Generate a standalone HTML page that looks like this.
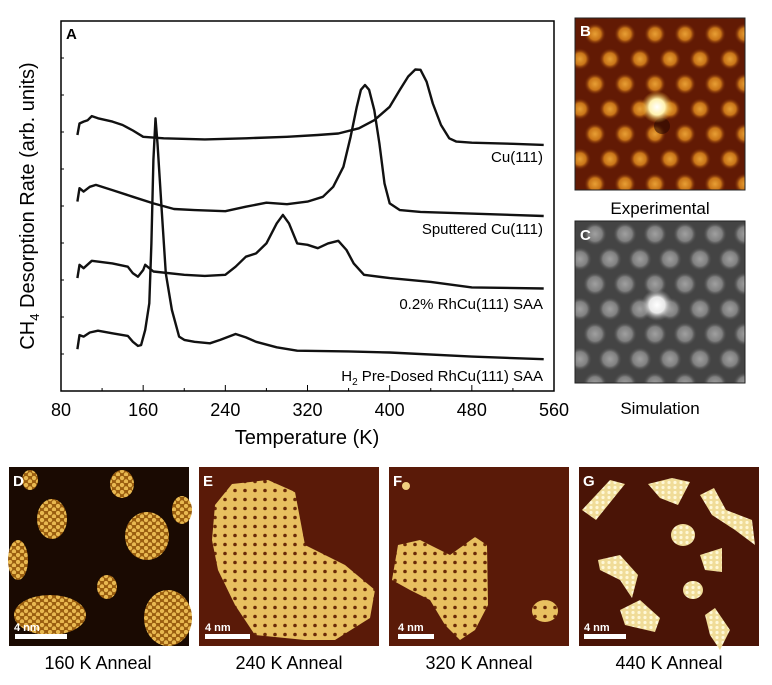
<!DOCTYPE html>
<html><head><meta charset="utf-8"><style>
html,body{margin:0;padding:0;background:#fff;}
body{width:772px;height:680px;overflow:hidden;font-family:"Liberation Sans",sans-serif;}
</style></head><body>
<svg id="fig" width="772" height="680" viewBox="0 0 772 680" xmlns="http://www.w3.org/2000/svg" font-family="Liberation Sans, sans-serif">
<defs>
<radialGradient id="gB"><stop offset="0" stop-color="#e8a035"/><stop offset="0.55" stop-color="#c87418"/><stop offset="1" stop-color="#6a1e04" stop-opacity="0"/></radialGradient>
<radialGradient id="gBw"><stop offset="0" stop-color="#ffffff"/><stop offset="0.5" stop-color="#fff2b0"/><stop offset="1" stop-color="#e0a020" stop-opacity="0"/></radialGradient>
<radialGradient id="gC"><stop offset="0" stop-color="#a0a0a0"/><stop offset="0.6" stop-color="#808080"/><stop offset="1" stop-color="#484848" stop-opacity="0"/></radialGradient>
<radialGradient id="gCw"><stop offset="0" stop-color="#ffffff"/><stop offset="0.5" stop-color="#e8e8e8"/><stop offset="1" stop-color="#888" stop-opacity="0"/></radialGradient>
<pattern id="pB" width="30" height="50" patternUnits="userSpaceOnUse" x="580" y="22">
<rect width="30" height="50" fill="#621a04"/><circle cx="15" cy="12" r="11" fill="url(#gB)"/><circle cx="0" cy="37" r="11" fill="url(#gB)"/><circle cx="30" cy="37" r="11" fill="url(#gB)"/></pattern>
<pattern id="pC" width="30" height="50" patternUnits="userSpaceOnUse" x="580" y="222">
<rect width="30" height="50" fill="#444"/><circle cx="15" cy="12" r="12" fill="url(#gC)"/><circle cx="0" cy="37" r="12" fill="url(#gC)"/><circle cx="30" cy="37" r="12" fill="url(#gC)"/></pattern>
<pattern id="pGold" width="8" height="7" patternUnits="userSpaceOnUse"><rect width="8" height="7" fill="#9a5e10"/><circle cx="2" cy="2" r="2.2" fill="#e8b850"/><circle cx="6" cy="5.5" r="2.2" fill="#e8b850"/></pattern>
<pattern id="pGoldE" width="10" height="9" patternUnits="userSpaceOnUse"><rect width="10" height="9" fill="#e8c060"/><circle cx="5" cy="4.5" r="1.8" fill="#6a2a08"/></pattern>
<pattern id="pLight" width="6" height="5" patternUnits="userSpaceOnUse"><rect width="6" height="5" fill="#f0dc98"/><circle cx="3" cy="2.5" r="1.6" fill="#fff8d8"/></pattern>
</defs>

<g id="chartA">
<rect x="61" y="21" width="493" height="370" fill="none" stroke="#000" stroke-width="1.5"/>
<text x="66" y="39" font-size="15" font-weight="bold">A</text>
<g id="xticks"></g>
<g id="yticks"></g>
<g id="series"></g>
<text x="307" y="444" font-size="20" text-anchor="middle">Temperature (K)</text>
<text transform="translate(34,206) rotate(-90)" font-size="20" text-anchor="middle">CH<tspan font-size="13" dy="5">4</tspan><tspan dy="-5"> Desorption Rate (arb. units)</tspan></text>
<text x="543" y="162" font-size="15" text-anchor="end">Cu(111)</text>
<text x="543" y="234" font-size="15" text-anchor="end">Sputtered Cu(111)</text>
<text x="543" y="309" font-size="15" text-anchor="end">0.2% RhCu(111) SAA</text>
<text x="543" y="381" font-size="15" text-anchor="end">H<tspan font-size="10" dy="4">2</tspan><tspan dy="-4"> Pre-Dosed RhCu(111) SAA</tspan></text>
</g>

<g>
<rect x="575" y="18" width="170" height="172" fill="url(#pB)" stroke="#222"/>
<circle cx="662" cy="126" r="8" fill="#2a0802" opacity="0.6"/>
<circle cx="657" cy="107" r="16" fill="url(#gBw)"/>
<text x="580" y="36" font-size="15" font-weight="bold" fill="#fff">B</text>
</g>
<text x="660" y="214" font-size="17" text-anchor="middle">Experimental</text>
<g>
<rect x="575" y="221" width="170" height="162" fill="url(#pC)" stroke="#222"/>
<circle cx="657" cy="305" r="16" fill="url(#gCw)"/>
<text x="580" y="240" font-size="15" font-weight="bold" fill="#fff">C</text>
</g>
<text x="660" y="414" font-size="17" text-anchor="middle">Simulation</text>

<g>
<rect x="9" y="467" width="180" height="179" fill="#1a0a02"/>
<g fill="url(#pGold)">
<ellipse cx="52" cy="519" rx="15" ry="20"/><ellipse cx="147" cy="536" rx="22" ry="24"/>
<ellipse cx="122" cy="484" rx="12" ry="14"/><ellipse cx="182" cy="510" rx="10" ry="14"/>
<ellipse cx="18" cy="560" rx="10" ry="20"/><ellipse cx="107" cy="587" rx="10" ry="12"/>
<ellipse cx="50" cy="615" rx="36" ry="20"/><ellipse cx="168" cy="618" rx="24" ry="28"/>
<ellipse cx="30" cy="480" rx="8" ry="10"/>
</g>
<text x="13" y="486" font-size="15" font-weight="bold" fill="#fff">D</text>
<text x="14" y="631" font-size="11" font-weight="bold" fill="#fff">4 nm</text>
<rect x="15" y="634" width="52" height="5" fill="#fff"/>
</g>
<g>
<rect x="199" y="467" width="180" height="179" fill="#5a1a08"/>
<polygon points="215,505 232,484 268,480 295,492 305,545 345,565 375,590 370,618 335,640 305,640 255,635 235,605 218,570 212,540" fill="url(#pGoldE)"/>
<text x="203" y="486" font-size="15" font-weight="bold" fill="#fff">E</text>
<text x="205" y="631" font-size="11" font-weight="bold" fill="#fff">4 nm</text>
<rect x="205" y="634" width="45" height="5" fill="#fff"/>
</g>
<g>
<rect x="389" y="467" width="180" height="179" fill="#5a1a08"/>
<polygon points="392,580 398,545 420,540 450,555 475,537 487,545 488,605 475,630 460,640 445,625 430,600 410,590" fill="url(#pGoldE)"/>
<ellipse cx="545" cy="611" rx="13" ry="11" fill="url(#pGoldE)"/>
<circle cx="406" cy="486" r="4" fill="#f0d080"/>
<text x="393" y="486" font-size="15" font-weight="bold" fill="#fff">F</text>
<text x="398" y="631" font-size="11" font-weight="bold" fill="#fff">4 nm</text>
<rect x="398" y="634" width="36" height="5" fill="#fff"/>
</g>
<g>
<rect x="579" y="467" width="180" height="179" fill="#4a1406"/>
<g fill="url(#pLight)">
<polygon points="582,510 610,480 625,484 596,520"/>
<polygon points="648,484 672,478 690,482 678,505 660,498"/>
<polygon points="700,495 714,488 726,510 752,520 755,545 735,530 712,515"/>
<ellipse cx="683" cy="535" rx="12" ry="11"/>
<polygon points="598,560 620,555 638,575 632,598 620,580 600,570"/>
<polygon points="700,555 722,548 722,572 705,570"/>
<ellipse cx="693" cy="590" rx="10" ry="9"/>
<polygon points="620,610 640,600 660,618 655,632 625,625"/>
<polygon points="705,615 715,608 730,630 720,650 710,635"/>
</g>
<text x="583" y="486" font-size="15" font-weight="bold" fill="#fff">G</text>
<text x="584" y="631" font-size="11" font-weight="bold" fill="#fff">4 nm</text>
<rect x="584" y="634" width="42" height="5" fill="#fff"/>
</g>
<text x="98" y="669" font-size="18" text-anchor="middle">160 K Anneal</text>
<text x="289" y="669" font-size="18" text-anchor="middle">240 K Anneal</text>
<text x="479" y="669" font-size="18" text-anchor="middle">320 K Anneal</text>
<text x="669" y="669" font-size="18" text-anchor="middle">440 K Anneal</text>
</svg>
<script>
const xTickLabels = [80,160,240,320,400,480,560];
const xMinorTicks = [120,200,280,360,440,520];
const cuT = [96,98,102,106,110,116,130,140,150,160,180,220,260,300,330,350,370,385,400,410,418,425,430,436,442,450,458,465,480,520,550];
const cuV = [69.2,72.3,72.8,73.2,74.3,73.7,72.8,71.9,70.4,68.7,68.3,68.0,68.3,68.7,69.2,69.6,71.0,73.2,76.8,81.4,85.0,86.9,86.8,83.6,77.7,71.9,68.3,67.4,67.1,66.8,66.5];
const spT = [96,98,102,108,114,130,150,170,190,210,240,260,280,300,320,335,345,355,362,368,372,376,380,385,390,395,400,410,430,550];
const spV = [51.2,54.8,53.9,55.2,55.7,54.3,52.5,50.7,49.2,48.9,48.6,49.8,50.9,50.5,51.2,52.5,55.2,60.6,68.7,76.8,81.4,82.7,81.4,75.9,66.9,56.1,50.7,48.9,48.4,47.3];
const rhT = [96,98,102,110,130,145,150,155,160,162,166,170,200,220,240,250,260,270,280,290,296,302,310,320,330,340,350,358,365,375,400,440,480,550];
const rhV = [30.5,34.1,33.2,35.2,34.5,33.6,31.8,30.9,32.7,34.1,33.2,32.3,31.4,31.1,31.4,33.6,36.3,37.2,39.9,45.3,47.6,45.3,39.9,39.5,38.6,39.9,40.6,38.1,34.5,31.4,30.5,29.5,28.0,27.7];
const h2T = [96,98,102,108,116,130,145,150,155,158,162,166,168,170,172,174,178,182,188,195,200,210,225,235,250,260,270,290,310,360,400,480,550];
const h2V = [11.3,15.1,14.7,15.8,16.3,15.6,14.9,13.3,12.2,12.4,16.5,23.7,39.9,62.4,73.7,66.9,48.9,31.8,21.9,14.7,13.8,13.3,12.9,13.8,15.4,14.5,13.3,11.8,10.9,10.7,10.4,9.3,8.6];

const X0=61, X1=554, Y0=391, Y1=21;
function xs(t){return X0+(t-80)/(560-80)*(X1-X0);}
function ys(v){return Y0-(v/100)*(Y0-Y1);}
const NS="http://www.w3.org/2000/svg";
const xg=document.getElementById('xticks');
xTickLabels.forEach(t=>{
  const l=document.createElementNS(NS,'line');
  l.setAttribute('x1',xs(t));l.setAttribute('x2',xs(t));l.setAttribute('y1',Y0);l.setAttribute('y2',Y0-6);
  l.setAttribute('stroke','#000');
  
  
  xg.appendChild(l);
  const tx=document.createElementNS(NS,'text');
  tx.setAttribute('x',xs(t));tx.setAttribute('y',416);tx.setAttribute('font-size','18');tx.setAttribute('text-anchor','middle');
  tx.textContent=t;
  
  
  xg.appendChild(tx);
});
xMinorTicks.forEach(t=>{
  const l=document.createElementNS(NS,'line');
  l.setAttribute('x1',xs(t));l.setAttribute('x2',xs(t));l.setAttribute('y1',Y0);l.setAttribute('y2',Y0-3);
  l.setAttribute('stroke','#000');
  
  
  xg.appendChild(l);
});
const yg=document.getElementById('yticks');
for(let v=0;v<=100;v+=10){
  const l=document.createElementNS(NS,'line');
  l.setAttribute('x1',X0);l.setAttribute('x2',X0+3);l.setAttribute('y1',ys(v));l.setAttribute('y2',ys(v));
  l.setAttribute('stroke','#000');
  
  
  yg.appendChild(l);
}
const sg=document.getElementById('series');
function draw(T,V,name){
  const p=document.createElementNS(NS,'polyline');
  p.setAttribute('points',T.map((t,i)=>xs(t).toFixed(1)+','+ys(V[i]).toFixed(1)).join(' '));
  p.setAttribute('fill','none');p.setAttribute('stroke','#111');p.setAttribute('stroke-width','2.4');p.setAttribute('stroke-linejoin','round');
  
  
  sg.appendChild(p);
}
draw(cuT,cuV,'series-cu111');
draw(spT,spV,'series-sputtered-cu111');
draw(rhT,rhV,'series-rhcu-saa');
draw(h2T,h2V,'series-h2-predosed');
</script>
</body></html>
